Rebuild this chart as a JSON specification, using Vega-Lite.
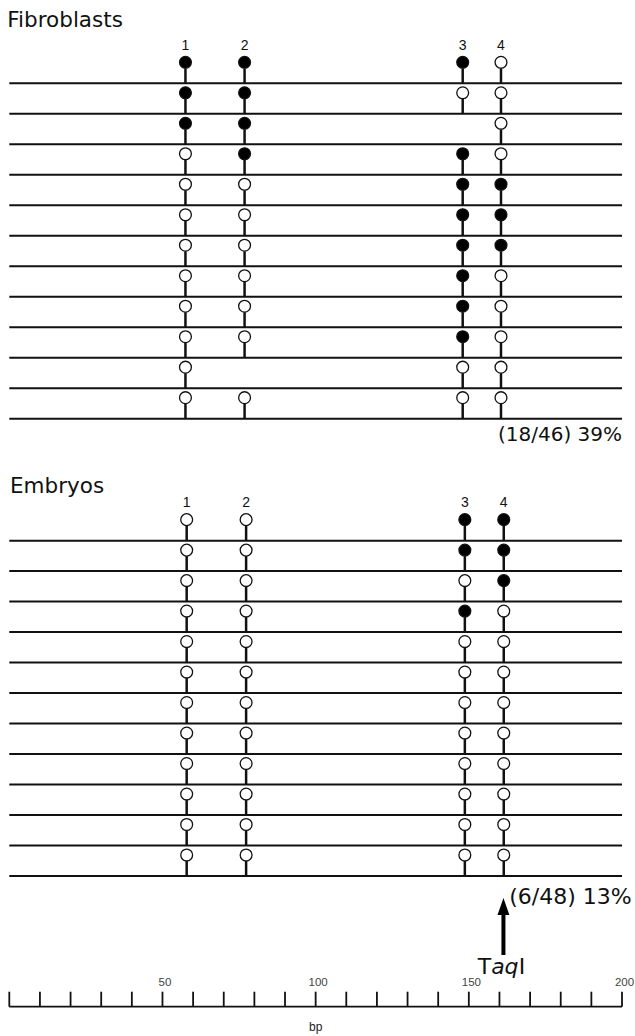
{
  "$schema": "https://vega.github.io/schema/vega-lite/v6.json",
  "width": 635,
  "height": 1036,
  "autosize": "none",
  "padding": 0,
  "background": "white",
  "config": {"view": {"stroke": null}},
  "data": {"values": [{"note": "annotation"}]},
  "datasets": {
    "tracks": [
      {"track": 1}, {"track": 2}, {"track": 3}, {"track": 4}, {"track": 5}, {"track": 6},
      {"track": 7}, {"track": 8}, {"track": 9}, {"track": 10}, {"track": 11}, {"track": 12},
      {"track": 16}, {"track": 17}, {"track": 18}, {"track": 19}, {"track": 20}, {"track": 21},
      {"track": 22}, {"track": 23}, {"track": 24}, {"track": 25}, {"track": 26}, {"track": 27}
    ],
    "ruler": [
      {"bp": 0}, {"bp": 10}, {"bp": 20}, {"bp": 30}, {"bp": 40}, {"bp": 50}, {"bp": 60},
      {"bp": 70}, {"bp": 80}, {"bp": 90}, {"bp": 100}, {"bp": 110}, {"bp": 120}, {"bp": 130},
      {"bp": 140}, {"bp": 150}, {"bp": 160}, {"bp": 170}, {"bp": 180}, {"bp": 190}, {"bp": 200}
    ],
    "rulerLabels": [
      {"bp": 50, "label": "50"}, {"bp": 100, "label": "100"}, {"bp": 150, "label": "150"}, {"bp": 200, "label": "200"}
    ],
    "sites": [
      {"track": 1, "site": "1", "pos": 57.5, "state": "M"},
      {"track": 1, "site": "2", "pos": 76.8, "state": "M"},
      {"track": 1, "site": "3", "pos": 148.0, "state": "M"},
      {"track": 1, "site": "4", "pos": 160.5, "state": "U"},
      {"track": 2, "site": "1", "pos": 57.5, "state": "M"},
      {"track": 2, "site": "2", "pos": 76.8, "state": "M"},
      {"track": 2, "site": "3", "pos": 148.0, "state": "U"},
      {"track": 2, "site": "4", "pos": 160.5, "state": "U"},
      {"track": 3, "site": "1", "pos": 57.5, "state": "M"},
      {"track": 3, "site": "2", "pos": 76.8, "state": "M"},
      {"track": 3, "site": "4", "pos": 160.5, "state": "U"},
      {"track": 4, "site": "1", "pos": 57.5, "state": "U"},
      {"track": 4, "site": "2", "pos": 76.8, "state": "M"},
      {"track": 4, "site": "3", "pos": 148.0, "state": "M"},
      {"track": 4, "site": "4", "pos": 160.5, "state": "U"},
      {"track": 5, "site": "1", "pos": 57.5, "state": "U"},
      {"track": 5, "site": "2", "pos": 76.8, "state": "U"},
      {"track": 5, "site": "3", "pos": 148.0, "state": "M"},
      {"track": 5, "site": "4", "pos": 160.5, "state": "M"},
      {"track": 6, "site": "1", "pos": 57.5, "state": "U"},
      {"track": 6, "site": "2", "pos": 76.8, "state": "U"},
      {"track": 6, "site": "3", "pos": 148.0, "state": "M"},
      {"track": 6, "site": "4", "pos": 160.5, "state": "M"},
      {"track": 7, "site": "1", "pos": 57.5, "state": "U"},
      {"track": 7, "site": "2", "pos": 76.8, "state": "U"},
      {"track": 7, "site": "3", "pos": 148.0, "state": "M"},
      {"track": 7, "site": "4", "pos": 160.5, "state": "M"},
      {"track": 8, "site": "1", "pos": 57.5, "state": "U"},
      {"track": 8, "site": "2", "pos": 76.8, "state": "U"},
      {"track": 8, "site": "3", "pos": 148.0, "state": "M"},
      {"track": 8, "site": "4", "pos": 160.5, "state": "U"},
      {"track": 9, "site": "1", "pos": 57.5, "state": "U"},
      {"track": 9, "site": "2", "pos": 76.8, "state": "U"},
      {"track": 9, "site": "3", "pos": 148.0, "state": "M"},
      {"track": 9, "site": "4", "pos": 160.5, "state": "U"},
      {"track": 10, "site": "1", "pos": 57.5, "state": "U"},
      {"track": 10, "site": "2", "pos": 76.8, "state": "U"},
      {"track": 10, "site": "3", "pos": 148.0, "state": "M"},
      {"track": 10, "site": "4", "pos": 160.5, "state": "U"},
      {"track": 11, "site": "1", "pos": 57.5, "state": "U"},
      {"track": 11, "site": "3", "pos": 148.0, "state": "U"},
      {"track": 11, "site": "4", "pos": 160.5, "state": "U"},
      {"track": 12, "site": "1", "pos": 57.5, "state": "U"},
      {"track": 12, "site": "2", "pos": 76.8, "state": "U"},
      {"track": 12, "site": "3", "pos": 148.0, "state": "U"},
      {"track": 12, "site": "4", "pos": 160.5, "state": "U"},
      {"track": 16, "site": "1", "pos": 57.9, "state": "U"},
      {"track": 16, "site": "2", "pos": 77.3, "state": "U"},
      {"track": 16, "site": "3", "pos": 148.7, "state": "M"},
      {"track": 16, "site": "4", "pos": 161.4, "state": "M"},
      {"track": 17, "site": "1", "pos": 57.9, "state": "U"},
      {"track": 17, "site": "2", "pos": 77.3, "state": "U"},
      {"track": 17, "site": "3", "pos": 148.7, "state": "M"},
      {"track": 17, "site": "4", "pos": 161.4, "state": "M"},
      {"track": 18, "site": "1", "pos": 57.9, "state": "U"},
      {"track": 18, "site": "2", "pos": 77.3, "state": "U"},
      {"track": 18, "site": "3", "pos": 148.7, "state": "U"},
      {"track": 18, "site": "4", "pos": 161.4, "state": "M"},
      {"track": 19, "site": "1", "pos": 57.9, "state": "U"},
      {"track": 19, "site": "2", "pos": 77.3, "state": "U"},
      {"track": 19, "site": "3", "pos": 148.7, "state": "M"},
      {"track": 19, "site": "4", "pos": 161.4, "state": "U"},
      {"track": 20, "site": "1", "pos": 57.9, "state": "U"},
      {"track": 20, "site": "2", "pos": 77.3, "state": "U"},
      {"track": 20, "site": "3", "pos": 148.7, "state": "U"},
      {"track": 20, "site": "4", "pos": 161.4, "state": "U"},
      {"track": 21, "site": "1", "pos": 57.9, "state": "U"},
      {"track": 21, "site": "2", "pos": 77.3, "state": "U"},
      {"track": 21, "site": "3", "pos": 148.7, "state": "U"},
      {"track": 21, "site": "4", "pos": 161.4, "state": "U"},
      {"track": 22, "site": "1", "pos": 57.9, "state": "U"},
      {"track": 22, "site": "2", "pos": 77.3, "state": "U"},
      {"track": 22, "site": "3", "pos": 148.7, "state": "U"},
      {"track": 22, "site": "4", "pos": 161.4, "state": "U"},
      {"track": 23, "site": "1", "pos": 57.9, "state": "U"},
      {"track": 23, "site": "2", "pos": 77.3, "state": "U"},
      {"track": 23, "site": "3", "pos": 148.7, "state": "U"},
      {"track": 23, "site": "4", "pos": 161.4, "state": "U"},
      {"track": 24, "site": "1", "pos": 57.9, "state": "U"},
      {"track": 24, "site": "2", "pos": 77.3, "state": "U"},
      {"track": 24, "site": "3", "pos": 148.7, "state": "U"},
      {"track": 24, "site": "4", "pos": 161.4, "state": "U"},
      {"track": 25, "site": "1", "pos": 57.9, "state": "U"},
      {"track": 25, "site": "2", "pos": 77.3, "state": "U"},
      {"track": 25, "site": "3", "pos": 148.7, "state": "U"},
      {"track": 25, "site": "4", "pos": 161.4, "state": "U"},
      {"track": 26, "site": "1", "pos": 57.9, "state": "U"},
      {"track": 26, "site": "2", "pos": 77.3, "state": "U"},
      {"track": 26, "site": "3", "pos": 148.7, "state": "U"},
      {"track": 26, "site": "4", "pos": 161.4, "state": "U"},
      {"track": 27, "site": "1", "pos": 57.9, "state": "U"},
      {"track": 27, "site": "2", "pos": 77.3, "state": "U"},
      {"track": 27, "site": "3", "pos": 148.7, "state": "U"},
      {"track": 27, "site": "4", "pos": 161.4, "state": "U"}
    ]
  },
  "layer": [
    {
      "data": {"name": "sites"},
      "mark": {"type": "rule", "color": "#111", "strokeWidth": 2.5, "y2Offset": -15},
      "encoding": {
        "x": {
          "field": "pos",
          "type": "quantitative",
          "title": "bp",
          "scale": {"domain": [0, 200], "range": [9.3, 622], "zero": false, "nice": false},
          "axis": null
        },
        "y": {
          "field": "track",
          "type": "quantitative",
          "scale": {"domain": [1, 27], "range": [83.3, 876], "zero": false, "nice": false},
          "axis": null
        },
        "y2": {"field": "track"}
      }
    },
    {
      "data": {"name": "tracks"},
      "mark": {"type": "rule", "color": "#111", "strokeWidth": 2},
      "encoding": {
        "x": {"datum": 0, "type": "quantitative", "axis": null},
        "x2": {"datum": 200},
        "y": {"field": "track", "type": "quantitative", "axis": null}
      }
    },
    {
      "data": {"name": "sites"},
      "mark": {"type": "point", "shape": "circle", "filled": true, "size": 140, "stroke": "#111", "strokeWidth": 1.3, "opacity": 1, "yOffset": -21},
      "encoding": {
        "x": {"field": "pos", "type": "quantitative", "axis": null},
        "y": {"field": "track", "type": "quantitative", "axis": null},
        "fill": {"field": "state", "type": "nominal", "scale": {"domain": ["M", "U"], "range": ["#000000", "#ffffff"]}, "legend": null}
      }
    },
    {
      "data": {"name": "sites"},
      "transform": [{"filter": "datum.track == 1 || datum.track == 16"}],
      "mark": {"type": "text", "font": "Liberation Sans", "fontSize": 14, "color": "#111", "baseline": "middle", "align": "center", "dy": -37.5},
      "encoding": {
        "x": {"field": "pos", "type": "quantitative", "axis": null},
        "y": {"field": "track", "type": "quantitative", "axis": null},
        "text": {"field": "site"}
      }
    },
    {
      "mark": {"type": "text", "font": "DejaVu Sans", "fontSize": 21.5, "color": "#111", "align": "left", "baseline": "alphabetic", "dx": -2, "dy": -56.6},
      "encoding": {
        "x": {"datum": 0, "type": "quantitative", "axis": null},
        "y": {"datum": 1, "type": "quantitative", "axis": null},
        "text": {"value": "Fibroblasts"}
      }
    },
    {
      "mark": {"type": "text", "font": "DejaVu Sans", "fontSize": 21.5, "color": "#111", "align": "left", "baseline": "alphabetic", "dx": 0.7, "dy": -47.3},
      "encoding": {
        "x": {"datum": 0, "type": "quantitative", "axis": null},
        "y": {"datum": 16, "type": "quantitative", "axis": null},
        "text": {"value": "Embryos"}
      }
    },
    {
      "mark": {"type": "text", "font": "DejaVu Sans", "fontSize": 20, "color": "#111", "align": "right", "baseline": "middle", "dx": 0, "dy": 16.6},
      "encoding": {
        "x": {"datum": 200, "type": "quantitative", "axis": null},
        "y": {"datum": 12, "type": "quantitative", "axis": null},
        "text": {"value": "(18/46) 39%"}
      }
    },
    {
      "mark": {"type": "text", "font": "DejaVu Sans", "fontSize": 22, "color": "#111", "align": "right", "baseline": "middle", "dx": 9.7, "dy": 20.7},
      "encoding": {
        "x": {"datum": 200, "type": "quantitative", "axis": null},
        "y": {"datum": 27, "type": "quantitative", "axis": null},
        "text": {"value": "(6/48) 13%"}
      }
    },
    {
      "mark": {"type": "rule", "color": "#000", "strokeWidth": 4, "yOffset": 38, "y2Offset": 79},
      "encoding": {
        "x": {"datum": 161.3, "type": "quantitative", "axis": null},
        "y": {"datum": 27, "type": "quantitative", "axis": null},
        "y2": {"datum": 27}
      }
    },
    {
      "mark": {"type": "point", "shape": "M0,-1L0.7,1L-0.7,1Z", "filled": true, "size": 289, "color": "#000", "opacity": 1, "yOffset": 30.5},
      "encoding": {
        "x": {"datum": 161.3, "type": "quantitative", "axis": null},
        "y": {"datum": 27, "type": "quantitative", "axis": null}
      }
    },
    {
      "mark": {"type": "text", "font": "DejaVu Sans", "fontSize": 22, "color": "#111", "align": "right", "baseline": "alphabetic", "dx": -12.3, "dy": 98.3},
      "encoding": {
        "x": {"datum": 161.3, "type": "quantitative", "axis": null},
        "y": {"datum": 27, "type": "quantitative", "axis": null},
        "text": {"value": "T"}
      }
    },
    {
      "mark": {"type": "text", "font": "DejaVu Sans", "fontSize": 22, "fontStyle": "italic", "color": "#111", "align": "left", "baseline": "alphabetic", "dx": -12.3, "dy": 98.3},
      "encoding": {
        "x": {"datum": 161.3, "type": "quantitative", "axis": null},
        "y": {"datum": 27, "type": "quantitative", "axis": null},
        "text": {"value": "aq"}
      }
    },
    {
      "mark": {"type": "text", "font": "DejaVu Sans", "fontSize": 22, "color": "#111", "align": "left", "baseline": "alphabetic", "dx": 15.2, "dy": 98.3},
      "encoding": {
        "x": {"datum": 161.3, "type": "quantitative", "axis": null},
        "y": {"datum": 27, "type": "quantitative", "axis": null},
        "text": {"value": "I"}
      }
    },
    {
      "mark": {"type": "rule", "color": "#111", "strokeWidth": 1.8, "yOffset": 130.7, "y2Offset": 130.7},
      "encoding": {
        "x": {"datum": 0, "type": "quantitative", "axis": null},
        "x2": {"datum": 200},
        "y": {"datum": 27, "type": "quantitative", "axis": null},
        "y2": {"datum": 27}
      }
    },
    {
      "data": {"name": "ruler"},
      "mark": {"type": "rule", "color": "#111", "strokeWidth": 1.8, "yOffset": 115.7, "y2Offset": 130.7},
      "encoding": {
        "x": {"field": "bp", "type": "quantitative", "axis": null},
        "y": {"datum": 27, "type": "quantitative", "axis": null},
        "y2": {"datum": 27}
      }
    },
    {
      "data": {"name": "rulerLabels"},
      "mark": {"type": "text", "font": "Liberation Sans", "fontSize": 11.5, "color": "#444", "align": "center", "baseline": "middle", "dx": 2.5, "dy": 106.7},
      "encoding": {
        "x": {"field": "bp", "type": "quantitative", "axis": null},
        "y": {"datum": 27, "type": "quantitative", "axis": null},
        "text": {"field": "label"}
      }
    },
    {
      "mark": {"type": "text", "font": "Liberation Sans", "fontSize": 12, "color": "#222", "align": "center", "baseline": "middle", "dy": 151},
      "encoding": {
        "x": {"datum": 100, "type": "quantitative", "axis": null},
        "y": {"datum": 27, "type": "quantitative", "axis": null},
        "text": {"value": "bp"}
      }
    }
  ]
}
